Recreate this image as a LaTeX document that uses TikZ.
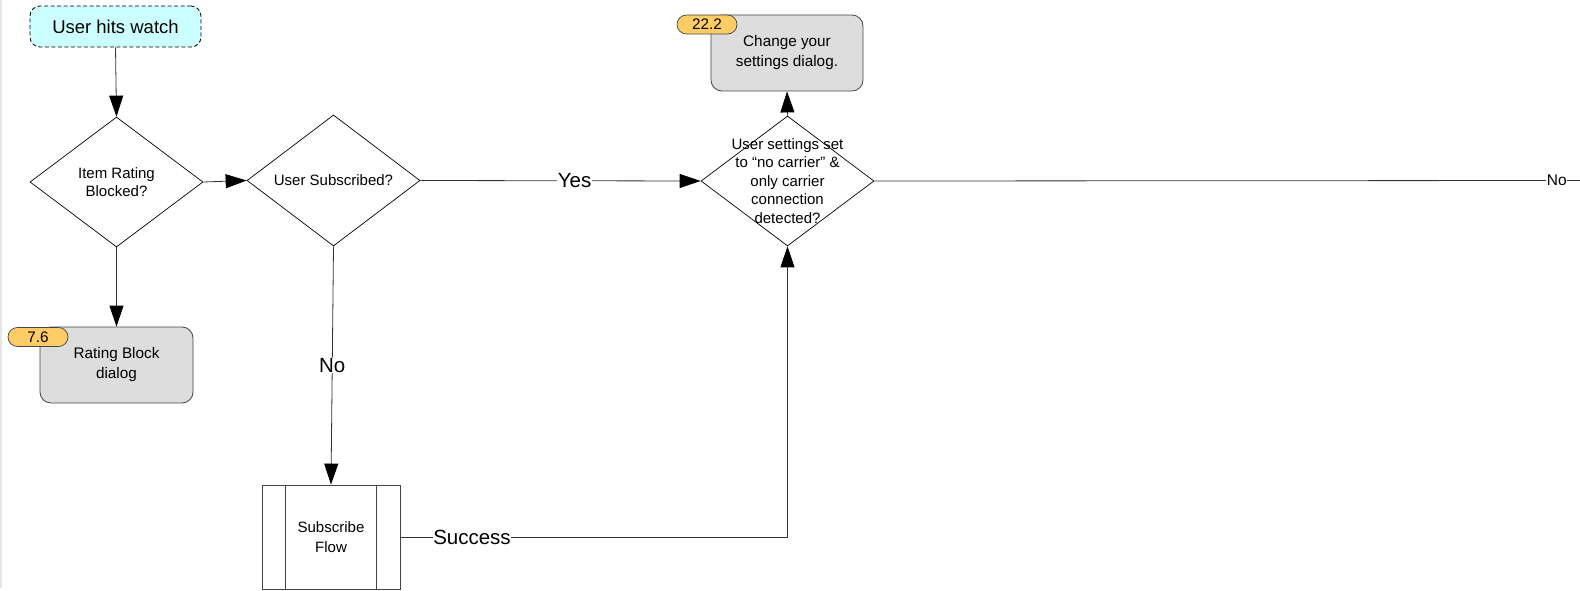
\documentclass[tikz,border=0pt]{standalone}
\usepackage{fontspec}
\setmainfont{Liberation Sans}
\usetikzlibrary{arrows.meta,shapes.geometric,calc}
\definecolor{startfill}{HTML}{CCFFFF}
\definecolor{boxfill}{HTML}{DDDDDD}
\definecolor{badgefill}{HTML}{FFCC66}
\definecolor{edgegray}{HTML}{444444}
\definecolor{linegray}{HTML}{333333}
\definecolor{stripgray}{HTML}{E6E6E6}
\tikzset{
  x=1pt, y=-1pt,
  conn/.style={draw=linegray, line width=0.8pt, -{Triangle[length=21pt,width=14pt,color=black]}},
  plainconn/.style={draw=linegray, line width=0.8pt},
  startbox/.style={draw=black, line width=0.8pt, dash pattern=on 4pt off 2.5pt, fill=startfill, rounded corners=10pt, minimum width=171pt, minimum height=41pt, font=\fontsize{18.5}{21}\selectfont, inner sep=0pt},
  decision/.style={draw=black, line width=0.7pt, diamond, aspect=1.33, minimum width=173pt, minimum height=130pt, inner sep=0pt, font=\fontsize{15}{18.5}\selectfont, align=center},
  dialogbox/.style={draw=edgegray, fill=boxfill, rounded corners=11pt, line width=0.8pt, inner sep=0pt, font=\fontsize{15.3}{20}\selectfont, align=center},
  badge/.style={draw=edgegray, fill=badgefill, rounded corners=9.5pt, line width=0.7pt, inner sep=0pt, minimum height=19pt, font=\fontsize{15.3}{18}\selectfont},
  lbl/.style={fill=white, inner sep=0.5pt, font=\fontsize{20.5}{24}\selectfont},
  smalllbl/.style={fill=white, inner sep=0.5pt, font=\fontsize{15.5}{18}\selectfont},
}
\begin{document}
\begin{tikzpicture}
\useasboundingbox (0,0) rectangle (1580,591);
\fill[stripgray] (0,0) rectangle (2,588);

% start
\node[startbox] (start) at (115.5,26.5) {User hits watch};

% decisions
\node[decision, minimum width=173pt, minimum height=130pt] (d1) at (116.5,182) {Item Rating\\Blocked?};
\node[decision, minimum width=173pt, minimum height=131pt] (d2) at (333.5,180.5) {User Subscribed?};
\node[decision, minimum width=173pt, minimum height=130pt] (d3) at (787.5,181) {};
\node[font=\fontsize{15}{18.5}\selectfont, align=center] (d3t) at (787.5,181) {User settings set\\to “no carrier” \&\\only carrier\\connection\\detected?};

% dialogs
\node[dialogbox, minimum width=153pt, minimum height=76pt] (rb) at (116.5,365) {Rating Block\\dialog};
\node[badge, minimum width=60pt] (b76) at (38,337) {7.6};
\node[dialogbox, minimum width=152pt, minimum height=76pt] (cs) at (787,53) {Change your\\settings dialog.};
\node[badge, minimum width=60pt] (b222) at (707,24.5) {22.2};

% subscribe flow (predefined process)
\node[draw=edgegray, line width=0.8pt, fill=white, minimum width=138pt, minimum height=104pt, inner sep=0pt, font=\fontsize{15}{20}\selectfont, align=center] (sf) at (331,537) {Subscribe\\Flow};
\draw[edgegray, line width=0.8pt] ($(sf.north west)+(24,0)$) -- ($(sf.south west)+(24,0)$);
\draw[edgegray, line width=0.8pt] ($(sf.north east)+(-24,0)$) -- ($(sf.south east)+(-24,0)$);

\coordinate (edge) at (1580,180.5);
\coordinate (corner) at (787.5,537);

% connectors
\draw[conn] (start.south) -- (d1.north);
\draw[conn] (d1.south) -- (rb.north);
\draw[conn] (d1.east) -- (d2.west);
\draw[conn] (d2.east) -- node[lbl, pos=0.55] {Yes} (d3.west);
\draw[conn] (d2.south) -- node[lbl, pos=0.5] {No} (sf.north);
\draw[conn] (sf.east) -- node[lbl, pos=0.185] {Success} (corner) -- (d3.south);
\draw[conn] (d3.north) -- (cs.south);
\draw[plainconn] (d3.east) -- node[smalllbl, pos=0.967] {No} (edge);
\end{tikzpicture}
\end{document}
